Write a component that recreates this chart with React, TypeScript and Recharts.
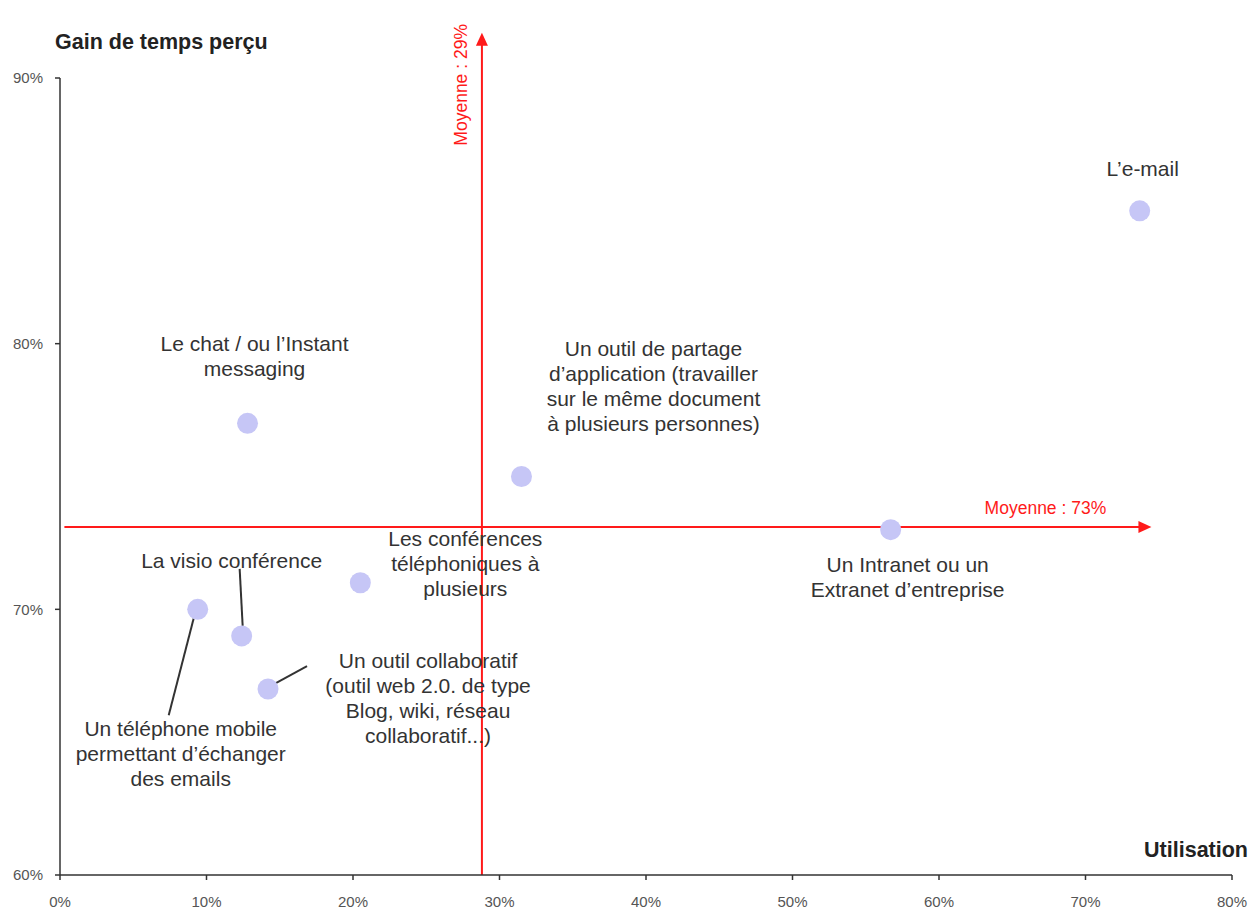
import React from 'react';
import { ScatterChart, Scatter, XAxis, YAxis, ReferenceLine } from 'recharts';

// Survey tools: usage (x, %) vs perceived time gain (y, %)
const categories: string[][] = [
  ['L’e-mail'],
  ['Le chat / ou l’Instant', 'messaging'],
  ['Un outil de partage', 'd’application (travailler', 'sur le même document', 'à plusieurs  personnes)'],
  ['Un Intranet ou un', 'Extranet d’entreprise'],
  ['Les conférences', 'téléphoniques à', 'plusieurs'],
  ['Un téléphone mobile', 'permettant d’échanger', 'des emails'],
  ['La visio conférence'],
  ['Un outil collaboratif', '(outil web 2.0. de type', 'Blog, wiki, réseau', 'collaboratif...)'],
];
const usage = [73.7, 12.8, 31.5, 56.7, 20.5, 9.4, 12.4, 14.2];
const gain = [85, 77, 75, 73, 71, 70, 69, 67];

const xTicks = [0, 10, 20, 30, 40, 50, 60, 70, 80];
const yTicks = [60, 70, 80, 90];

const meanUsage = 28.8;
const meanGain = 73.1;

// where each label sits relative to its dot (px), plus optional leader line
const labelLayout: { dx: number; dy: number; leader?: number[] }[] = [
  { dx: 3, dy: -42 },
  { dx: 7, dy: -80 },
  { dx: 132, dy: -128 },
  { dx: 17, dy: 35 },
  { dx: 105, dy: -44 },
  { dx: -17, dy: 119, leader: [-4, 9, -29, 106] },
  { dx: -10, dy: -75, leader: [-2, -67, 1, -10] },
  { dx: 160, dy: -28, leader: [39, -23, 6, -5] },
];

const LINE = 25;
const FONT = '"Liberation Sans", Arial, sans-serif';
const RED = '#ff1a1a';

const data = categories.map((lines, i) => ({ lines, x: usage[i], y: gain[i], idx: i }));

const Dot = (props: any) => {
  const { cx, cy, payload } = props;
  const lay = labelLayout[payload.idx];
  return (
    <g>
      {lay.leader && (
        <line
          x1={cx + lay.leader[0]}
          y1={cy + lay.leader[1]}
          x2={cx + lay.leader[2]}
          y2={cy + lay.leader[3]}
          stroke="#333"
          strokeWidth={2}
        />
      )}
      <circle cx={cx} cy={cy} r={10.5} fill="#c6c6f6" />
      <text textAnchor="middle" fontFamily={FONT} fontSize={21} fill="#333">
        {payload.lines.map((t: string, k: number) => (
          <tspan key={k} x={cx + lay.dx} y={cy + lay.dy + k * LINE} dy="0.35em">
            {t}
          </tspan>
        ))}
      </text>
    </g>
  );
};

const VArrow = (props: any) => {
  const { x1, y1, y2 } = props;
  const tipY = Math.min(y1, y2);
  const baseY = Math.max(y1, y2);
  const x = x1;
  return (
    <g>
      <line x1={x} y1={baseY} x2={x} y2={tipY + 10} stroke={RED} strokeWidth={2} />
      <polygon points={`${x},${tipY} ${x - 6},${tipY + 13} ${x + 6},${tipY + 13}`} fill={RED} />
      <text
        x={x - 21}
        y={tipY + 52}
        transform={`rotate(-90 ${x - 21} ${tipY + 52})`}
        textAnchor="middle"
        dy="0.35em"
        fontFamily={FONT}
        fontSize={17.5}
        fill={RED}
      >
        Moyenne : 29%
      </text>
    </g>
  );
};

const HArrow = (props: any) => {
  const { x1, y1, x2 } = props;
  const tipX = Math.max(x1, x2);
  const startX = Math.min(x1, x2);
  const y = y1;
  return (
    <g>
      <line x1={startX} y1={y} x2={tipX - 10} y2={y} stroke={RED} strokeWidth={2} />
      <polygon points={`${tipX},${y} ${tipX - 13},${y - 6} ${tipX - 13},${y + 6}`} fill={RED} />
      <text
        x={tipX - 106}
        y={y - 19}
        textAnchor="middle"
        dy="0.35em"
        fontFamily={FONT}
        fontSize={17.5}
        fill={RED}
      >
        Moyenne : 73%
      </text>
    </g>
  );
};

const tickStyle = { fontSize: 15, fill: '#555', fontFamily: FONT };

export default function App() {
  return (
    <div style={{ position: 'absolute', left: 0, top: 0, width: 1253, height: 909, background: '#fff' }}>
      <ScatterChart width={1253} height={909} margin={{ top: 78, right: 21, bottom: 0, left: 0 }}>
        <XAxis
          type="number"
          dataKey="x"
          domain={[0, 80]}
          ticks={xTicks}
          interval={0}
          tickFormatter={(v: number) => `${v}%`}
          height={34}
          tickSize={5}
          tickMargin={16}
          axisLine={{ stroke: '#333', strokeWidth: 1.5 }}
          tickLine={{ stroke: '#333', strokeWidth: 1.5 }}
          tick={tickStyle}
        />
        <YAxis
          type="number"
          dataKey="y"
          domain={[60, 90]}
          ticks={yTicks}
          interval={0}
          tickFormatter={(v: number) => `${v}%`}
          width={60}
          tickSize={5}
          tickMargin={12}
          axisLine={{ stroke: '#333', strokeWidth: 1.5 }}
          tickLine={{ stroke: '#333', strokeWidth: 1.5 }}
          tick={tickStyle}
        />
        <Scatter data={data} shape={Dot} isAnimationActive={false} />
        <ReferenceLine
          segment={[{ x: meanUsage, y: 60 }, { x: meanUsage, y: 91.7 }]}
          ifOverflow="visible"
          shape={VArrow}
        />
        <ReferenceLine
          segment={[{ x: 0.3, y: meanGain }, { x: 74.5, y: meanGain }]}
          ifOverflow="visible"
          shape={HArrow}
        />
      </ScatterChart>
      <div
        style={{
          position: 'absolute',
          left: 55,
          top: 30,
          fontFamily: FONT,
          fontWeight: 'bold',
          fontSize: 21.5,
          lineHeight: '24px',
          color: '#222',
          whiteSpace: 'nowrap',
        }}
      >
        Gain de temps perçu
      </div>
      <div
        style={{
          position: 'absolute',
          right: 5,
          top: 838,
          fontFamily: FONT,
          fontWeight: 'bold',
          fontSize: 21.5,
          lineHeight: '24px',
          color: '#222',
          whiteSpace: 'nowrap',
        }}
      >
        Utilisation
      </div>
    </div>
  );
}
